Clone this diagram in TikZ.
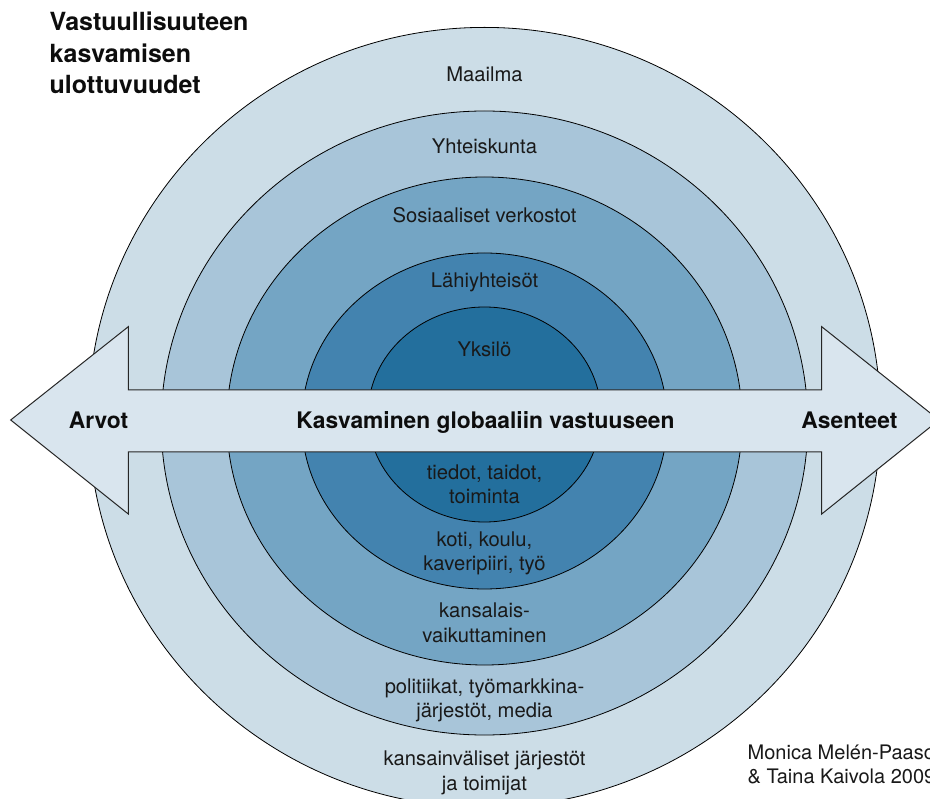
\documentclass[tikz,border=0pt]{standalone}
\usepackage{fontspec}
\setmainfont{TeX Gyre Heros}
\definecolor{cOut}{HTML}{CCDDE7}
\definecolor{cFour}{HTML}{A8C5D9}
\definecolor{cThree}{HTML}{74A5C4}
\definecolor{cTwo}{HTML}{4383AF}
\definecolor{cOne}{HTML}{236F9D}
\definecolor{cBar}{HTML}{D9E5EE}
\begin{document}
\begin{tikzpicture}[x=1pt,y=-1pt,
  ring/.style={draw=black, line width=0.8pt},
  lab/.style={font=\fontsize{20.2}{25}\selectfont, text=black!90, inner sep=0pt, anchor=base},
  barlab/.style={font=\bfseries\fontsize{22.8}{27}\selectfont, text=black!95, inner sep=0pt, anchor=base},
  titlelab/.style={font=\bfseries\fontsize{25}{31}\selectfont, text=black!95, inner sep=0pt, anchor=base west},
  creditlab/.style={font=\fontsize{20}{24}\selectfont, text=black!90, inner sep=0pt, anchor=base west},
  arrowshape/.style={fill=cBar, draw=black!85, line width=1pt, line join=miter}
]
\useasboundingbox (0,0) rectangle (930,799);
\clip (0,0) rectangle (930,799);
\fill[white] (0,0) rectangle (930,799);
% rings
\filldraw[ring, fill=cOut]   (484.5,417.4) ellipse [x radius=396pt, y radius=390pt];
\filldraw[ring, fill=cFour]  (484.5,423)   ellipse [x radius=323.3pt, y radius=312pt];
\filldraw[ring, fill=cThree] (484.5,421)   ellipse [x radius=257.6pt, y radius=244pt];
\filldraw[ring, fill=cTwo]   (484.5,421)   ellipse [x radius=182.6pt, y radius=168pt];
\filldraw[ring, fill=cOne]   (484.5,414.5) ellipse [x radius=116.5pt, y radius=107.5pt];
% double arrow
\filldraw[arrowshape] (10.7,420) -- (128.3,326.7) -- (128.3,390) -- (821.7,390) -- (821.7,326.7)
  -- (939,420) -- (821.7,514) -- (821.7,452) -- (128.3,452) -- (128.3,514) -- cycle;
% ring labels (top)
\node[lab] (maailma) at (484.5,82) {Maailma};
\node[lab] (yhteiskunta) at (484.5,154) {Yhteiskunta};
\node[lab] (sosiaaliset) at (484.5,223) {Sosiaaliset verkostot};
\node[lab] (lahi) at (484.5,288) {Lähiyhteisöt};
\node[lab] (yksilo) at (484.5,357) {Yksilö};
% bar labels
\node[barlab] (arvot) at (98.5,429) {Arvot};
\node[barlab] (kasvaminen) at (485.5,429) {Kasvaminen globaaliin vastuuseen};
\node[barlab] (asenteet) at (849.5,429) {Asenteet};
% ring labels (bottom)
\node[lab] (tiedot1) at (484.5,480) {tiedot, taidot,};
\node[lab] (tiedot2) at (484.5,504) {toiminta};
\node[lab] (koti1) at (484.5,547) {koti, koulu,};
\node[lab] (koti2) at (484.5,571) {kaveripiiri, työ};
\node[lab] (kans1) at (484.5,617) {kansalais-};
\node[lab] (kans2) at (484.5,642) {vaikuttaminen};
\node[lab] (pol1) at (484.5,693) {politiikat, työmarkkina-};
\node[lab] (pol2) at (484.5,717) {järjestöt, media};
\node[lab] (int1) at (484.5,765) {kansainväliset järjestöt};
\node[lab] (int2) at (484.5,790) {ja toimijat};
% title
\node[titlelab] (title1) at (49.5,31) {Vastuullisuuteen};
\node[titlelab] (title2) at (49.5,62.5) {kasvamisen};
\node[titlelab] (title3) at (49.5,94) {ulottuvuudet};
% credit
\node[creditlab] (credit1) at (747.5,759) {Monica Melén-Paaso};
\node[creditlab] (credit2) at (747.5,783) {\& Taina Kaivola 2009};
\end{tikzpicture}
\end{document}
